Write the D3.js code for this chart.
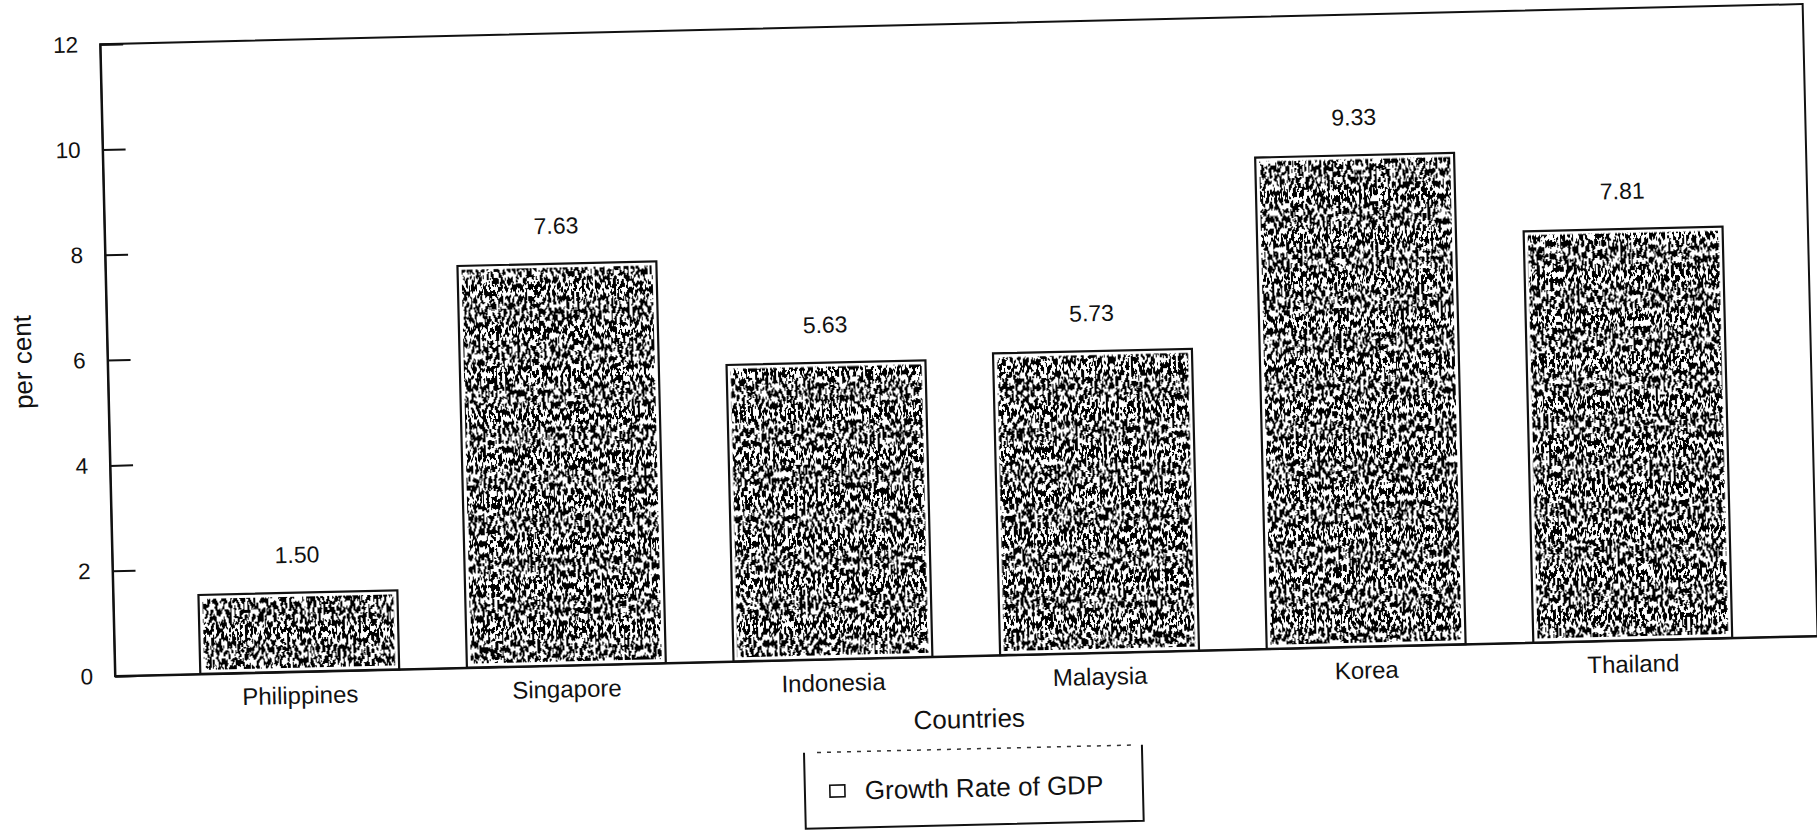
<!DOCTYPE html>
<html>
<head>
<meta charset="utf-8">
<script src="https://cdn.jsdelivr.net/npm/d3@7"></script>
<style>
  html, body { margin: 0; padding: 0; background: #fff; }
  svg { display: block; }
  text { font-family: "Liberation Sans", Arial, sans-serif; fill: #111; }
</style>
</head>
<body>
<svg id="chart" width="1817" height="832"></svg>
<script>
// ---- data ----
const categories = ["Philippines", "Singapore", "Indonesia", "Malaysia", "Korea", "Thailand"];
const growthRates = [1.50, 7.63, 5.63, 5.73, 9.33, 7.81];
const valueLabels = ["1.50", "7.63", "5.63", "5.73", "9.33", "7.81"];
const yTickValues = [0, 2, 4, 6, 8, 10, 12];
const yTickLabels = ["0", "2", "4", "6", "8", "10", "12"];
const xAxisTitle = "Countries";
const yAxisTitle = "per cent";
const legendLabels = ["Growth Rate of GDP"];

// ---- layout ----
const W = 1703, H = 632;
const svg = d3.select("#chart");

const defs = svg.append("defs");
const f = defs.append("filter").attr("id", "stipple")
  .attr("x", 0).attr("y", 0).attr("width", 1).attr("height", 1)
  .attr("color-interpolation-filters", "sRGB");
f.append("feTurbulence").attr("type", "fractalNoise")
  .attr("baseFrequency", "0.38 0.16").attr("numOctaves", 2).attr("seed", 11).attr("result", "n");
f.append("feColorMatrix").attr("in", "n").attr("type", "matrix")
  .attr("values", "0 0 0 0 0  0 0 0 0 0  0 0 0 0 0  1 0 0 0 0").attr("result", "a");
f.append("feComponentTransfer").attr("in", "a").attr("result", "t")
  .append("feFuncA").attr("type", "discrete").attr("tableValues", "0 0 0 0 0 1 1 1 1 1");
f.append("feComposite").attr("in", "t").attr("in2", "SourceAlpha").attr("operator", "in");

svg.append("rect").attr("width", 1817).attr("height", 832).attr("fill", "#fff");

const root = svg.append("g").attr("transform", "rotate(-1.35,115,676)");
const plot = root.append("g").attr("transform", "translate(115,44)");

const x = d3.scaleBand().domain(categories).range([0, W]).paddingInner(0.254).paddingOuter(0.32);
const y = d3.scaleLinear().domain([0, 12]).range([H, 0]);

// frame
plot.append("rect").attr("x", 0).attr("y", 0).attr("width", W).attr("height", H)
  .attr("fill", "none").attr("stroke", "#111").attr("stroke-width", 2);

// y axis
const yAxis = plot.append("g")
  .call(d3.axisLeft(y).tickValues(yTickValues).tickSize(-23).tickPadding(22)
    .tickFormat((d, i) => yTickLabels[i]));
yAxis.select(".domain").attr("stroke", "#111").attr("stroke-width", 2);
yAxis.selectAll(".tick line").attr("stroke", "#111").attr("stroke-width", 2);
yAxis.selectAll(".tick text").attr("font-size", 22.5).attr("fill", "#111")
  .attr("font-family", "'Liberation Sans', Arial, sans-serif");

// x axis
const xAxis = plot.append("g").attr("transform", `translate(0,${H})`)
  .call(d3.axisBottom(x).tickSize(0).tickPadding(15));
xAxis.select(".domain").attr("stroke", "#111").attr("stroke-width", 2);
xAxis.selectAll(".tick text").attr("font-size", 24).attr("fill", "#111")
  .attr("font-family", "'Liberation Sans', Arial, sans-serif");

// bars
const data = categories.map((c, i) => ({ c, v: growthRates[i], lab: valueLabels[i] }));
const bars = plot.append("g").selectAll("g").data(data).join("g");
bars.append("rect")
  .attr("x", d => x(d.c)).attr("y", d => y(d.v))
  .attr("width", x.bandwidth()).attr("height", d => y(0) - y(d.v))
  .attr("fill", "#fff").attr("stroke", "#111").attr("stroke-width", 2.2);
bars.append("rect")
  .attr("x", d => x(d.c) + 4).attr("y", d => y(d.v) + 4)
  .attr("width", x.bandwidth() - 8).attr("height", d => y(0) - y(d.v) - 8)
  .attr("fill", "#000").attr("filter", "url(#stipple)");
bars.append("text")
  .attr("x", d => x(d.c) + x.bandwidth() / 2).attr("y", d => y(d.v) - 30)
  .attr("text-anchor", "middle").attr("font-size", 23)
  .text(d => d.lab);

// axis titles
plot.append("text").attr("x", 853).attr("y", 704).attr("text-anchor", "middle")
  .attr("font-size", 26).text(xAxisTitle);
plot.append("text").attr("transform", "translate(-85,316) rotate(-90)")
  .attr("text-anchor", "middle").attr("dominant-baseline", "central")
  .attr("font-size", 26).text(yAxisTitle);

// legend
const lg = plot.append("g");
lg.append("line").attr("x1", 700).attr("x2", 1015).attr("y1", 725).attr("y2", 725)
  .attr("stroke", "#333").attr("stroke-width", 1.5).attr("stroke-dasharray", "4 6");
lg.append("path").attr("d", "M687,725V801H1025V725")
  .attr("fill", "none").attr("stroke", "#111").attr("stroke-width", 2);
legendLabels.forEach((t, i) => {
  lg.append("rect").attr("x", 712).attr("y", 758 + i * 30).attr("width", 15).attr("height", 12)
    .attr("fill", "#fff").attr("stroke", "#111").attr("stroke-width", 1.6);
  lg.append("text").attr("x", 747).attr("y", 773 + i * 30).attr("font-size", 26).text(t);
});
</script>
</body>
</html>
